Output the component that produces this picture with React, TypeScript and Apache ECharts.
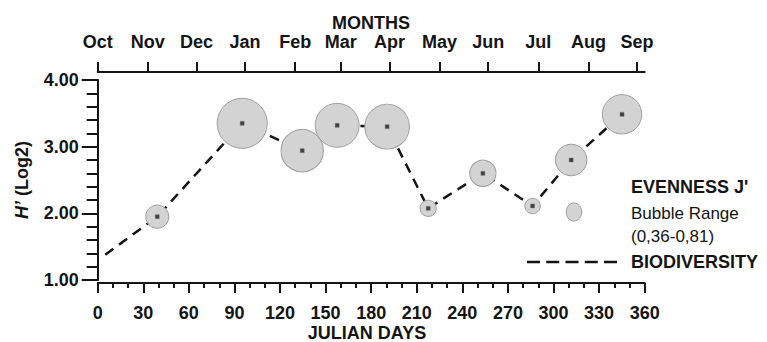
import React, { useEffect, useRef } from "react";
import * as echarts from "echarts";

// Sampling dates (Julian days) and Shannon diversity H' (log2)
const startDay = 5;
const startH = 1.38;
const julianDays = [39.2, 95.1, 134.6, 157.6, 190.5, 217.5, 253.5, 286.2, 311.6, 345.1];
const diversityH = [1.95, 3.35, 2.94, 3.32, 3.3, 2.075, 2.6, 2.11, 2.8, 3.485];
// Pielou evenness J' (bubble size)
const evennessJ = [0.46, 0.81, 0.71, 0.73, 0.74, 0.37, 0.5, 0.36, 0.57, 0.67];
const evennessRange = [0.36, 0.81];

// Month axis
const monthNames = ["Oct", "Nov", "Dec", "Jan", "Feb", "Mar", "Apr", "May", "Jun", "Jul", "Aug", "Sep"];
const monthDays = [0, 33, 65, 97, 130, 160, 192, 225, 257, 290, 323, 355];

const yTicks = [1, 2, 3, 4];

const FONT = "'Liberation Sans', Arial, Helvetica, sans-serif";
const INK = "#141414";

// bubble diameter from evenness (linear between the range ends)
const minD = 15.5;
const maxD = 50;
const sizeFor = (j: number) =>
  minD + ((j - evennessRange[0]) / (evennessRange[1] - evennessRange[0])) * (maxD - minD);

export default function App() {
  const ref = useRef<HTMLDivElement>(null);

  useEffect(() => {
    if (!ref.current) return;
    const chart = echarts.init(ref.current, null, { renderer: "svg" });

    const points = julianDays.map((d, i) => [d, diversityH[i], evennessJ[i]]);
    const lineData = [[startDay, startH], ...julianDays.map((d, i) => [d, diversityH[i]])];

    const labelStyle = {
      fontFamily: FONT,
      fontWeight: "bold" as const,
      fontSize: 18,
      color: INK,
    };
    const axisLine = { show: true, lineStyle: { color: INK, width: 2 } };

    chart.setOption({
      animation: false,
      grid: { left: 97.7, right: 122.3, top: 80, bottom: 62, containLabel: false },
      xAxis: [
        {
          type: "value",
          position: "bottom",
          offset: 3,
          min: 0,
          max: 360,
          interval: 30,
          axisLine,
          axisTick: { show: true, length: 10, lineStyle: { color: INK, width: 2 } },
          minorTick: { show: true, splitNumber: 3, length: 5, lineStyle: { color: INK, width: 2 } },
          axisLabel: { ...labelStyle, margin: 21 },
          splitLine: { show: false },
        },
        {
          type: "value",
          position: "top",
          offset: 8,
          min: 0,
          max: 360,
          axisLine,
          axisTick: {
            show: true,
            length: 10,
            customValues: monthDays,
            lineStyle: { color: INK, width: 2 },
          },
          axisLabel: {
            ...labelStyle,
            margin: 21,
            customValues: monthDays,
            formatter: (v: number) => {
              const i = monthDays.indexOf(v);
              return i >= 0 ? monthNames[i] : "";
            },
          },
          splitLine: { show: false },
        },
      ],
      yAxis: {
        type: "value",
        min: yTicks[0],
        max: yTicks[yTicks.length - 1],
        interval: 1,
        axisLine,
        axisTick: { show: true, length: 16, lineStyle: { color: INK, width: 2 } },
        minorTick: { show: true, splitNumber: 5, length: 11, lineStyle: { color: INK, width: 2 } },
        axisLabel: { ...labelStyle, margin: 19, formatter: (v: number) => v.toFixed(2) },
        splitLine: { show: false },
      },
      series: [
        {
          type: "line",
          data: lineData,
          showSymbol: false,
          symbol: "none",
          z: 1,
          lineStyle: { color: INK, width: 2.5, type: [10, 7] },
        },
        {
          type: "scatter",
          data: points,
          symbolSize: (v: number[]) => sizeFor(v[2]),
          z: 2,
          itemStyle: { color: "#d3d3d3", borderColor: "#9e9e9e", borderWidth: 1, opacity: 1 },
        },
        {
          type: "scatter",
          data: points.map((p) => [p[0], p[1]]),
          symbol: "rect",
          symbolSize: 4,
          z: 3,
          itemStyle: { color: "#1a1a1a", borderColor: "#777", borderWidth: 0.5 },
        },
      ],
      graphic: [
        {
          type: "text",
          x: 371,
          y: 23,
          style: { text: "MONTHS", font: `bold 18px ${FONT}`, fill: INK, align: "center", verticalAlign: "middle" },
        },
        {
          type: "text",
          x: 367,
          y: 333,
          style: { text: "JULIAN DAYS", font: `bold 18px ${FONT}`, fill: INK, align: "center", verticalAlign: "middle" },
        },
        {
          type: "text",
          x: 22,
          y: 180,
          rotation: Math.PI / 2,
          style: {
            text: "{i|H’}{n| (Log2)}",
            align: "center",
            verticalAlign: "middle",
            rich: {
              i: { font: `italic bold 18px ${FONT}`, fill: INK },
              n: { font: `bold 18px ${FONT}`, fill: INK },
            },
          },
        },
        {
          type: "ellipse",
          shape: { cx: 574, cy: 212, rx: sizeFor(evennessRange[0]) / 2, ry: 9 },
          style: { fill: "#d3d3d3", stroke: "#9e9e9e", lineWidth: 1 },
        },
        {
          type: "text",
          x: 631,
          y: 187,
          style: { text: "EVENNESS J'", font: `bold 18px ${FONT}`, fill: INK, verticalAlign: "middle" },
        },
        {
          type: "text",
          x: 631,
          y: 213,
          style: { text: "Bubble Range", font: `17px ${FONT}`, fill: INK, verticalAlign: "middle" },
        },
        {
          type: "text",
          x: 631,
          y: 236,
          style: {
            text: `(${String(evennessRange[0]).replace(".", ",")}-${String(evennessRange[1]).replace(".", ",")})`,
            font: `17px ${FONT}`,
            fill: INK,
            verticalAlign: "middle",
          },
        },
        {
          type: "line",
          shape: { x1: 527, y1: 262, x2: 617, y2: 262 },
          style: { stroke: INK, lineWidth: 2.5, lineDash: [13, 6.25] },
        },
        {
          type: "text",
          x: 631,
          y: 262,
          style: { text: "BIODIVERSITY", font: `bold 18px ${FONT}`, fill: INK, verticalAlign: "middle" },
        },
      ],
    });

    return () => chart.dispose();
  }, []);

  return (
    <div
      ref={ref}
      style={{ position: "fixed", left: 0, top: 0, width: 767, height: 342, background: "#fff" }}
    />
  );
}
